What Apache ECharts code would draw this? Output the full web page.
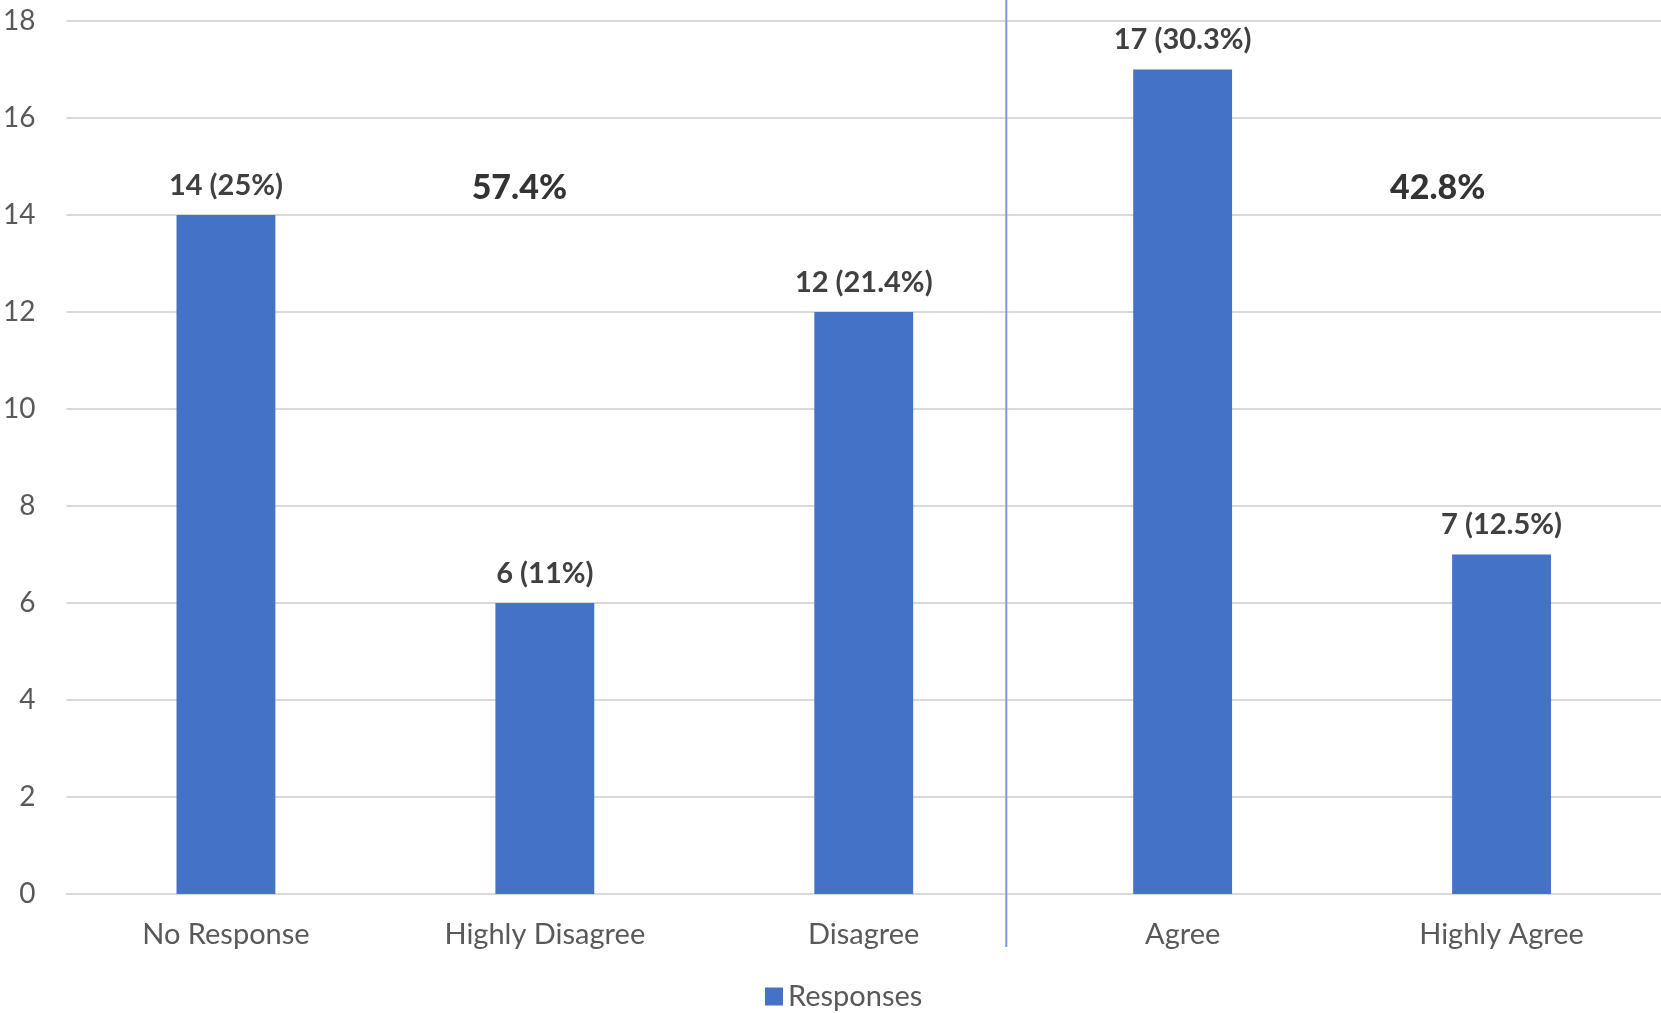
<!DOCTYPE html>
<html>
<head>
<meta charset="utf-8">
<script src="https://cdn.jsdelivr.net/npm/echarts@6/dist/echarts.min.js"></script>
<style>
  html, body { margin: 0; padding: 0; background: #fff; }
  #chart { width: 1661px; height: 1013px; }
</style>
</head>
<body>
<div id="chart"></div>
<script>
// Survey answers
const categories = ['No Response', 'Highly Disagree', 'Disagree', 'Agree', 'Highly Agree'];
const responses = [14, 6, 12, 17, 7];
const shares = ['25%', '11%', '21.4%', '30.3%', '12.5%'];
const yTicks = { min: 0, max: 18, interval: 2 };

// Group totals, placed in category units over each side of the divider
const groupTotals = [
  { text: '57.4%', pos: 1.42, value: 14.55 },
  { text: '42.8%', pos: 4.30, value: 14.55 }
];
const dividerPos = 2.947;

const FONT = 'Lato, "Liberation Sans", sans-serif';
const chart = echarts.init(document.getElementById('chart'), null, { renderer: 'canvas' });

const option = {
  animation: false,
  textStyle: { fontFamily: FONT },
  grid: { left: 66, right: 0, top: 21, bottom: 119, containLabel: false },
  legend: {
    data: ['Responses'],
    bottom: -3,
    left: 760,
    itemWidth: 18,
    itemHeight: 18,
    itemGap: 8,
    icon: 'rect',
    textStyle: { fontSize: 29, color: '#595959', fontFamily: FONT }
  },
  xAxis: [
    {
      type: 'category',
      data: categories,
      axisLine: { show: true, lineStyle: { color: '#d9d9d9', width: 2 } },
      axisTick: { show: false },
      axisLabel: { fontSize: 29, color: '#595959', margin: 26, fontFamily: FONT }
    },
    {
      type: 'value',
      min: 0,
      max: 5,
      show: false
    }
  ],
  yAxis: {
    type: 'value',
    min: yTicks.min,
    max: yTicks.max,
    interval: yTicks.interval,
    axisLine: { show: false },
    axisTick: { show: false },
    splitLine: { lineStyle: { color: '#d9d9d9', width: 2 } },
    axisLabel: { fontSize: 28, color: '#595959', margin: 31, fontFamily: FONT }
  },
  series: [
    {
      name: 'Responses',
      type: 'bar',
      data: responses,
      barWidth: '31%',
      itemStyle: { color: '#4472C4' },
      label: {
        show: true,
        position: 'top',
        distance: 15,
        fontSize: 29,
        fontWeight: 'bold',
        color: '#404040',
        fontFamily: FONT,
        formatter: (p) => p.value + ' (' + shares[p.dataIndex] + ')'
      }
    },
    {
      name: 'Totals',
      type: 'scatter',
      xAxisIndex: 1,
      symbolSize: 0,
      silent: true,
      data: groupTotals.map(g => [g.pos, g.value, g.text]),
      label: {
        show: true,
        position: 'inside',
        fontSize: 34,
        fontWeight: 900,
        color: '#000',
        fontFamily: FONT,
        formatter: (p) => p.value[2]
      }
    }
  ]
};
chart.setOption(option);

// Divider between the disagree and agree sides
const dx = chart.convertToPixel({ xAxisIndex: 1 }, dividerPos);
chart.setOption({
  graphic: [{
    type: 'line',
    shape: { x1: dx, y1: 0, x2: dx, y2: 947 },
    style: { stroke: '#7a9cd6', lineWidth: 2 },
    z: 10
  }]
});
</script>
</body>
</html>
